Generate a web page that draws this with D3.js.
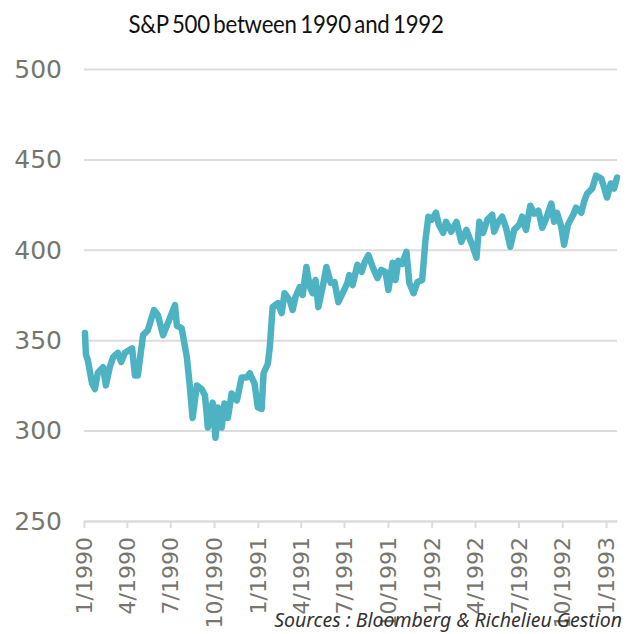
<!DOCTYPE html>
<html>
<head>
<meta charset="utf-8">
<script src="https://cdn.jsdelivr.net/npm/d3@7"></script>
<style>
  body { margin: 0; background: #fff; }
  .title { font-family: Lato, sans-serif; font-size: 24.5px; fill: #111; letter-spacing: -0.3px; word-spacing: -2px; }
  .source { font-family: "Noto Sans", sans-serif; font-style: italic; font-size: 19.5px; fill: #333; }
  .y-axis text { font-family: "DejaVu Sans", sans-serif; font-size: 25px; fill: #76766f; }
  .x-axis text { font-family: "DejaVu Sans", sans-serif; font-size: 22px; fill: #76766f; }
</style>
</head>
<body>
<div id="chart"></div>
<script>
// S&P 500 weekly-ish readings
var dates = [
  "1990-01-03","1990-01-05","1990-01-09","1990-01-18","1990-01-24","1990-01-30",
  "1990-02-10","1990-02-16","1990-02-24","1990-03-03","1990-03-13","1990-03-20",
  "1990-03-28","1990-04-12","1990-04-18","1990-04-24","1990-05-05","1990-05-15",
  "1990-05-28","1990-06-05","1990-06-16","1990-06-26","1990-07-11","1990-07-15",
  "1990-07-25","1990-08-05","1990-08-11","1990-08-17","1990-08-26","1990-09-05",
  "1990-09-12","1990-09-18","1990-09-28","1990-10-04","1990-10-09","1990-10-17",
  "1990-10-23","1990-10-30","1990-11-07","1990-11-18","1990-11-28","1990-12-09",
  "1990-12-15","1990-12-25","1991-01-01","1991-01-09","1991-01-13","1991-01-22",
  "1991-01-26","1991-02-01","1991-02-12","1991-02-20","1991-02-26","1991-03-09",
  "1991-03-15","1991-03-21","1991-03-30","1991-04-05","1991-04-13","1991-04-20",
  "1991-04-26","1991-05-02","1991-05-08","1991-05-17","1991-05-25","1991-06-03",
  "1991-06-11","1991-06-19","1991-06-28","1991-07-08","1991-07-12","1991-07-19",
  "1991-07-29","1991-08-07","1991-08-13","1991-08-21","1991-08-30","1991-09-09",
  "1991-09-17","1991-09-26","1991-10-02","1991-10-11","1991-10-17","1991-10-23",
  "1991-10-31","1991-11-09","1991-11-15","1991-11-24","1991-12-02","1991-12-12",
  "1991-12-19","1991-12-25","1992-01-01","1992-01-10","1992-01-16","1992-01-25",
  "1992-01-31","1992-02-11","1992-02-22","1992-03-03","1992-03-14","1992-03-20",
  "1992-03-26","1992-04-04","1992-04-10","1992-04-18","1992-04-27","1992-05-07",
  "1992-05-11","1992-05-20","1992-05-28","1992-06-05","1992-06-14","1992-06-22",
  "1992-07-03","1992-07-09","1992-07-17","1992-07-26","1992-08-03","1992-08-12",
  "1992-08-20","1992-08-28","1992-09-08","1992-09-14","1992-09-20","1992-09-29",
  "1992-10-05","1992-10-13","1992-10-24","1992-10-30","1992-11-10","1992-11-16",
  "1992-11-22","1992-12-03","1992-12-11","1992-12-22","1992-12-28","1993-01-03",
  "1993-01-11","1993-01-18","1993-01-24"
];

var closes = [
  354, 342, 339, 326, 323, 332,
  335, 325, 335, 340.5, 343, 338,
  343, 345.5, 330.5, 330.5, 352.8, 355.5,
  366.7, 364, 352.8, 359.4, 369.4, 358,
  356.7, 340.5, 325, 307, 325, 323,
  319.4, 301.7, 315.5, 296, 312.8, 301.7,
  315, 307, 320.5, 316.7, 329.4, 329.4,
  331.7, 326, 312.8, 312, 331.7, 337,
  346, 368.3, 370.5, 365, 376, 372,
  366.7, 373.9, 379.4, 375, 390.5, 379.4,
  376, 383.3, 368.3, 379.4, 390.5, 381.7,
  382.2, 371, 376, 381.7, 386, 380.5,
  391.7, 387.8, 393, 397, 390.5, 384.4,
  388.9, 387.8, 377.8, 392.8, 383.3, 393.9,
  392.2, 398.9, 381.7, 376, 382.2, 383.3,
  405.6, 418.3, 416.7, 420.5, 413.9, 409.4,
  415.5, 410, 415.5, 404.4, 411, 406.7,
  402.8, 395.6, 415.5, 409.4, 416.7, 419.4,
  410, 415.5, 418.3, 412.2, 401.7, 411,
  413.9, 418.3, 411, 424.4, 420, 421.7,
  412.2, 417.2, 425.6, 415.5, 420.5, 412.8,
  402.8, 413.9, 419.4, 423.3, 420.5, 426.7,
  431, 433.9, 441, 439.4, 434.4, 428.9,
  436.7, 433.9, 440
];

var yTicks = [250, 300, 350, 400, 450, 500];
var xTickDates = [
  "1990-01-01","1990-04-01","1990-07-01","1990-10-01",
  "1991-01-01","1991-04-01","1991-07-01","1991-10-01",
  "1992-01-01","1992-04-01","1992-07-01","1992-10-01",
  "1993-01-01"
];
var xTickLabels = [
  "1/1990","4/1990","7/1990","10/1990",
  "1/1991","4/1991","7/1991","10/1991",
  "1/1992","4/1992","7/1992","10/1992",
  "1/1993"
];

var titleText = "S&P 500 between 1990 and 1992";
var sourceText = "Sources : Bloomberg & Richelieu Gestion";

// SVG area
var svgWidth = 630;
var svgHeight = 634;

var chartMargin = { top: 69, right: 13, bottom: 113, left: 84 };
var chartWidth = svgWidth - chartMargin.left - chartMargin.right;
var chartHeight = svgHeight - chartMargin.top - chartMargin.bottom;

var svg = d3.select("#chart")
  .append("svg")
  .attr("width", svgWidth)
  .attr("height", svgHeight);

var chartGroup = svg.append("g")
  .attr("transform", `translate(${chartMargin.left}, ${chartMargin.top})`);

var parseDate = d3.timeParse("%Y-%m-%d");
var data = dates.map(function(d, i) {
  return { date: parseDate(d), close: closes[i] };
});

var xScale = d3.scaleTime()
  .domain([parseDate("1990-01-01"), d3.max(data, d => d.date)])
  .range([0, chartWidth]);

var yScale = d3.scaleLinear()
  .domain([250, 500])
  .range([chartHeight, 0]);

// y axis with gridlines
var leftAxis = d3.axisLeft(yScale)
  .tickValues(yTicks)
  .tickSize(-chartWidth)
  .tickPadding(22);

var yAxisGroup = chartGroup.append("g")
  .attr("class", "y-axis")
  .call(leftAxis);
yAxisGroup.select(".domain").remove();
yAxisGroup.selectAll("line")
  .attr("stroke", "#dcdcdc")
  .attr("stroke-width", 2);
yAxisGroup.selectAll("text").attr("dy", "0.33em");

// x axis with rotated quarter labels
var bottomAxis = d3.axisBottom(xScale)
  .tickValues(xTickDates.map(parseDate))
  .tickFormat((d, i) => xTickLabels[i])
  .tickSize(7)
  .tickSizeOuter(0);

var xAxisGroup = chartGroup.append("g")
  .attr("class", "x-axis")
  .attr("transform", `translate(0, ${chartHeight})`)
  .call(bottomAxis);
xAxisGroup.select(".domain")
  .attr("stroke", "#dcdcdc")
  .attr("stroke-width", 2);
xAxisGroup.selectAll("line")
  .attr("stroke", "#dcdcdc")
  .attr("stroke-width", 2);
xAxisGroup.selectAll("text")
  .attr("transform", "rotate(-90)")
  .attr("text-anchor", "end")
  .attr("x", -16)
  .attr("y", 0)
  .attr("dy", "0.35em");

// the index line
var drawLine = d3.line()
  .x(d => xScale(d.date))
  .y(d => yScale(d.close));

chartGroup.append("path")
  .attr("d", drawLine(data))
  .attr("fill", "none")
  .attr("stroke", "#4db3c2")
  .attr("stroke-width", 6.5)
  .attr("stroke-linejoin", "round")
  .attr("stroke-linecap", "round");

// title and source
svg.append("text")
  .attr("class", "title")
  .attr("x", 286)
  .attr("y", 33)
  .attr("text-anchor", "middle")
  .attr("textLength", 315)
  .attr("lengthAdjust", "spacingAndGlyphs")
  .text(titleText);

svg.append("text")
  .attr("class", "source")
  .attr("x", 622)
  .attr("y", 627)
  .attr("text-anchor", "end")
  .text(sourceText);
</script>
</body>
</html>
